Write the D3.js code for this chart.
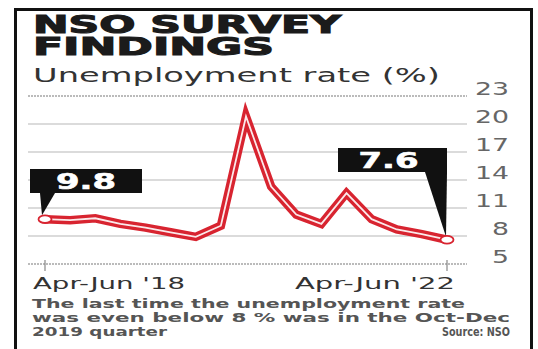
<!DOCTYPE html>
<html>
<head>
<meta charset="utf-8">
<script src="https://cdn.jsdelivr.net/npm/d3@7"></script>
<style>
  html, body { margin: 0; padding: 0; background: #fff; }
  svg { display: block; }
  text { font-family: "DejaVu Sans", Verdana, sans-serif; }
</style>
</head>
<body>
<svg width="538" height="349"></svg>
<script>
// quarterly urban unemployment rate (%), PLFS
var quarters = ["Apr-Jun '18","Jul-Sep '18","Oct-Dec '18","Jan-Mar '19",
  "Apr-Jun '19","Jul-Sep '19","Oct-Dec '19","Jan-Mar '20",
  "Apr-Jun '20","Jul-Sep '20","Oct-Dec '20","Jan-Mar '21",
  "Apr-Jun '21","Jul-Sep '21","Oct-Dec '21","Jan-Mar '22","Apr-Jun '22"];
var rates = [9.8, 9.7, 9.9, 9.3, 8.9, 8.4, 7.9, 9.1, 20.8, 13.3, 10.3, 9.3, 12.6, 9.8, 8.7, 8.2, 7.6];
var yTicks = [5, 8, 11, 14, 17, 20, 23];
var xLabels = ["Apr-Jun '18", "Apr-Jun '22"];
var footLines = ["The last time the unemployment rate",
  "was even below 8 % was in the Oct-Dec",
  "2019 quarter"];

var svg = d3.select("svg");
var red = "#d82430";

// frame
svg.append("rect").attr("x", 15.5).attr("y", 9.5).attr("width", 516).attr("height", 360)
  .attr("fill", "#fff").attr("stroke", "#111").attr("stroke-width", 3);

// title (stroked to get the heavy look)
svg.append("text").attr("x", 33).attr("y", 33).text("NSO SURVEY")
  .attr("font-size", 24).attr("font-weight", "bold").attr("fill", "#1b1b1b")
  .attr("stroke", "#1b1b1b").attr("stroke-width", 1.1)
  .attr("textLength", 308).attr("lengthAdjust", "spacingAndGlyphs");
svg.append("text").attr("x", 33).attr("y", 55).text("FINDINGS")
  .attr("font-size", 24).attr("font-weight", "bold").attr("fill", "#1b1b1b")
  .attr("stroke", "#1b1b1b").attr("stroke-width", 1.1)
  .attr("textLength", 241).attr("lengthAdjust", "spacingAndGlyphs");
svg.append("text").attr("x", 33).attr("y", 82).text("Unemployment rate (%)")
  .attr("font-size", 19).attr("fill", "#333")
  .attr("textLength", 407).attr("lengthAdjust", "spacingAndGlyphs");

var x = d3.scalePoint().domain(quarters).range([45, 447]);
var y = d3.scaleLinear().domain([5, 23]).range([264, 96]);

// grid + right labels
var grid = svg.append("g");
yTicks.forEach(function(t){
  var dotted = (t == 5 || t == 23);
  grid.append("line").attr("x1", 28).attr("x2", 467)
    .attr("y1", y(t)).attr("y2", y(t))
    .attr("stroke", dotted ? "#bbb" : "#cfcfcf")
    .attr("stroke-width", dotted ? 2 : 1.6)
    .attr("stroke-dasharray", dotted ? "2,1" : null);
  var s = String(t);
  grid.append("text").attr("x", 509).attr("y", y(t) - 1).text(s)
    .attr("text-anchor", "end").attr("font-size", 17).attr("fill", "#666")
    .attr("textLength", s.length * 17).attr("lengthAdjust", "spacingAndGlyphs");
});

// end ticks and x labels
[quarters[0], quarters[quarters.length - 1]].forEach(function(q){
  svg.append("line").attr("x1", x(q)).attr("x2", x(q)).attr("y1", 260).attr("y2", 271)
    .attr("stroke", "#888").attr("stroke-width", 1.2);
});
svg.append("text").attr("x", 33).attr("y", 289).text(xLabels[0])
  .attr("font-size", 15).attr("fill", "#333")
  .attr("textLength", 152).attr("lengthAdjust", "spacingAndGlyphs");
svg.append("text").attr("x", 455).attr("y", 289).text(xLabels[1])
  .attr("font-size", 15).attr("fill", "#333").attr("text-anchor", "end")
  .attr("textLength", 160).attr("lengthAdjust", "spacingAndGlyphs");

// line
var line = d3.line().x(function(d, i){ return x(quarters[i]); }).y(function(d){ return y(d); });
svg.append("path").datum(rates).attr("d", line).attr("fill", "none")
  .attr("stroke", red).attr("stroke-width", 8.5).attr("stroke-linejoin", "miter");
svg.append("path").datum(rates).attr("d", line).attr("fill", "none")
  .attr("stroke", "#fff").attr("stroke-width", 1.8).attr("stroke-linejoin", "miter").attr("opacity", 0.9);

// callouts
function callout(i, bx, by, bw, side){
  var px = x(quarters[i]), py = y(rates[i]);
  var bh = 24;
  var tri = side == "left"
    ? [[bx + 10, by + bh], [bx + 25, by + bh], [px - 3, py - 4]]
    : [[bx + bw - 22, by + bh], [bx + bw, by + bh], [px - 1, py - 3]];
  svg.append("polygon").attr("points", tri.map(function(p){ return p.join(","); }).join(" "))
    .attr("fill", "#111");
  svg.append("rect").attr("x", bx).attr("y", by).attr("width", bw).attr("height", bh).attr("fill", "#111");
  svg.append("text").attr("x", bx + bw / 2 + (side == "left" ? 0 : -4)).attr("y", by + 20)
    .text(rates[i].toFixed(1)).attr("text-anchor", "middle")
    .attr("font-size", 21).attr("font-weight", "bold").attr("fill", "#fff")
    .attr("stroke", "#fff").attr("stroke-width", 0.6)
    .attr("textLength", 60).attr("lengthAdjust", "spacingAndGlyphs");
  svg.append("ellipse").attr("cx", px).attr("cy", py).attr("rx", 6.5).attr("ry", 3.8)
    .attr("fill", "#fff").attr("stroke", red).attr("stroke-width", 1.8);
}
callout(0, 30, 169, 112, "left");
callout(rates.length - 1, 338, 148, 109, "right");

// footnote
footLines.forEach(function(l, i){
  var w = [433, 478, 135][i];
  svg.append("text").attr("x", 32).attr("y", 308 + i * 14).text(l)
    .attr("font-size", 12).attr("font-weight", "bold").attr("fill", "#555")
    .attr("textLength", w).attr("lengthAdjust", "spacingAndGlyphs");
});
svg.append("text").attr("x", 510).attr("y", 336).text("Source: NSO")
  .attr("font-size", 12).attr("font-weight", "bold").attr("fill", "#555").attr("text-anchor", "end")
  .attr("textLength", 68).attr("lengthAdjust", "spacingAndGlyphs");
</script>
</body>
</html>
